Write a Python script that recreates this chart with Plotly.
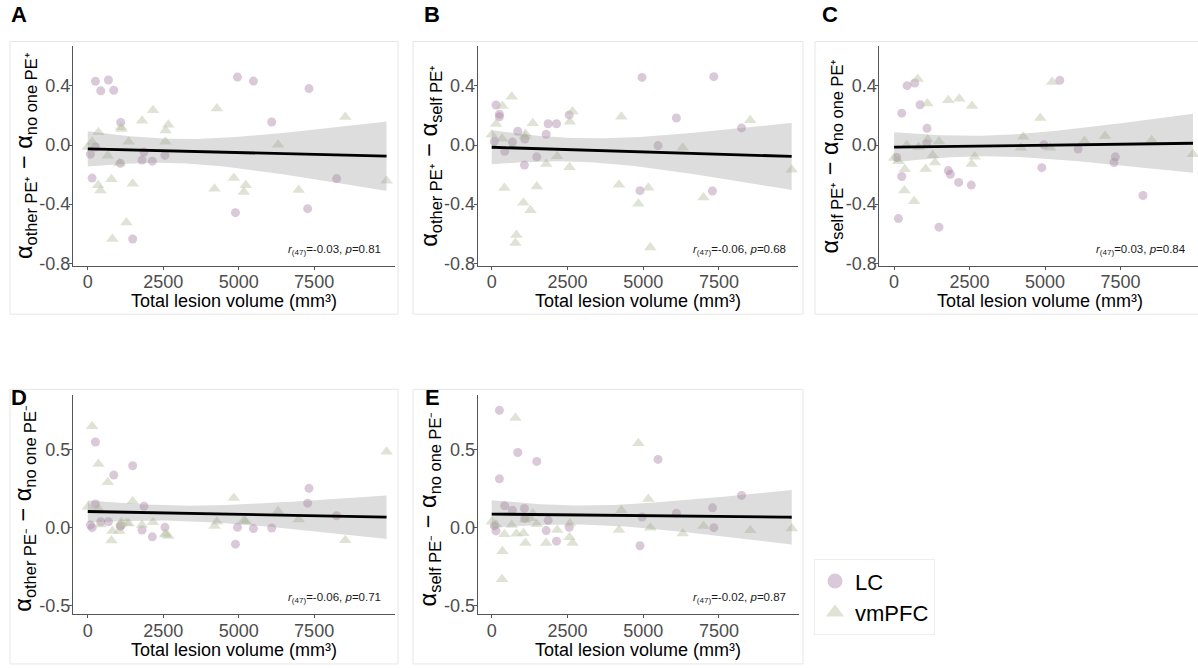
import numpy as np
import plotly.graph_objects as go

# ---------------- data ----------------
lc_volume = [88, 143, 254, 254, 430, 684, 860, 1080, 1091, 1488, 1797, 1863, 2139, 2558,
             4893, 4961, 5489, 6095, 7286, 7330, 8245]
vm_volume = [0, 143, 342, 353, 419, 662, 783, 816, 1047, 1100, 1113, 1279, 1356, 1488, 1797,
             2161, 2569, 2580, 2668, 4200, 4278, 4840, 5169, 5235, 6305, 6988, 8532, 9900]

lc_A = [-0.062, -0.224, 0.431, -0.013, 0.367, 0.44, 0.371, -0.124, 0.153, -0.636, -0.102, -0.047,
        -0.109, -0.069, -0.458, 0.46, 0.433, 0.156, -0.431, 0.382, -0.227]
lc_B = [0.024, 0.271, 0.209, 0.191, -0.042, 0.02, 0.093, -0.136, 0.04, -0.08, 0.073, 0.144,
        0.144, 0.204, -0.309, 0.458, -0.004, 0.183, -0.311, 0.463, 0.116]
lc_C = [-0.084, -0.498, 0.216, -0.213, 0.402, 0.42, 0.273, 0.009, 0.113, -0.556, -0.173, -0.198,
        -0.253, -0.271, -0.153, 0.002, 0.438, -0.027, -0.118, -0.08, -0.342]
lc_D = [0.017, 0.0, 0.55, 0.152, 0.038, 0.038, 0.338, 0.008, 0.013, 0.397, -0.015, 0.137,
        -0.059, 0.002, -0.106, 0.002, -0.006, -0.002, 0.157, 0.252, 0.076]
lc_E = [0.011, -0.021, 0.753, 0.313, 0.14, 0.112, 0.482, 0.123, 0.059, 0.425, -0.019, 0.047,
        -0.087, 0.002, -0.116, 0.068, 0.438, 0.093, 0.127, 0.0, 0.207]

vm_A = [-0.013, 0.02, -0.273, 0.087, -0.307, -0.073, -0.231, -0.636, -0.124, 0.12, 0.109, -0.524,
        0.022, -0.262, 0.164, 0.236, 0.022, 0.098, 0.138, -0.296, 0.247, -0.224, -0.318, -0.273,
        0.002, -0.304, 0.189, -0.242]
vm_B = [0.069, 0.142, 0.042, 0.264, -0.291, 0.327, -0.664, -0.609, -0.391, 0.06, 0.076, -0.442,
        0.147, -0.28, -0.129, -0.076, -0.151, 0.158, 0.227, -0.269, 0.191, -0.398, -0.289, -0.693,
        -0.018, -0.356, 0.167, -0.167]
vm_C = [-0.087, -0.109, -0.307, -0.164, -0.002, -0.38, 0.447, -0.013, -0.162, 0.282, 0.038, -0.069,
        -0.118, 0.024, 0.304, 0.313, -0.129, 0.264, -0.08, -0.018, 0.056, 0.183, -0.018, 0.427,
        0.027, 0.062, 0.033, -0.062]
vm_D = [0.133, 0.651, 0.123, 0.408, 0.02, 0.292, -0.082, -0.021, -0.021, 0.02, 0.034, 0.03,
        0.027, 0.169, 0.017, 0.034, -0.04, -0.045, -0.053, 0.011, 0.038, 0.19, 0.046, 0.04,
        0.106, 0.053, -0.081, 0.487]
vm_E = [0.038, 0.02, -0.332, -0.152, -0.042, 0.017, 0.704, -0.04, -0.036, 0.05, -0.099, 0.06,
        0.091, 0.021, -0.099, -0.015, -0.061, 0.027, -0.099, -0.015, 0.112, 0.541, 0.184, 0.0,
        -0.038, 0.011, -0.017, -0.006]

panel_letters = ["A", "B", "C", "D", "E"]
y_titles = [
    "α<sub>other PE⁺</sub> − α<sub>no one PE⁺</sub>",
    "α<sub>other PE⁺</sub> − α<sub>self PE⁺</sub>",
    "α<sub>self PE⁺</sub> − α<sub>no one PE⁺</sub>",
    "α<sub>other PE⁻</sub> − α<sub>no one PE⁻</sub>",
    "α<sub>self PE⁻</sub> − α<sub>no one PE⁻</sub>",
]
x_title = "Total lesion volume (mm³)"
stat_r = ["-0.03", "-0.06", "0.03", "-0.06", "-0.02"]
stat_p = ["0.81", "0.68", "0.84", "0.71", "0.87"]
x_ticks = [0, 2500, 5000, 7500]
y_ticks_top = [-0.8, -0.4, 0.0, 0.4]
y_ticks_bottom = [-0.5, 0.0, 0.5]

lc_series = [lc_A, lc_B, lc_C, lc_D, lc_E]
vm_series = [vm_A, vm_B, vm_C, vm_D, vm_E]

# ---------------- layout geometry (pixels) ----------------
W, H = 1198, 668
areas = [(73, 395, 47, 269), (477.7, 798, 47, 269), (879.3, 1198, 47, 269),
         (73, 395, 400, 621.7), (477.7, 799, 400, 621.7)]
xranges = [[-490, 10180], [-462, 10109], [-490, 10067], [-490, 10180], [-462, 10140]]
yr_top = [-0.8175, 0.6675]
yr_bot = [-0.556, 0.85]
boxes = [(10, 398, 42, 318), (413, 803, 42, 318), (815, 1205, 42, 318),
         (10, 398, 394, 672), (413, 803, 394, 672)]
letter_pos = [(19, 15), (432, 15), (830, 15), (19, 402), (432, 402)]

LC_COLOR = "rgba(172,136,168,0.45)"
VM_COLOR = "rgba(188,196,165,0.47)"
FONT = "Liberation Sans, Arial, sans-serif"


def px(x):
    return x / W


def py(y):
    return 1 - y / H


def fit_band(x, y, xs):
    x = np.asarray(x, float)
    y = np.asarray(y, float)
    n = len(x)
    b, a = np.polyfit(x, y, 1)
    yhat = a + b * x
    s = np.sqrt(np.sum((y - yhat) ** 2) / (n - 2))
    mx = x.mean()
    sxx = np.sum((x - mx) ** 2)
    se = s * np.sqrt(1.0 / n + (xs - mx) ** 2 / sxx)
    t = 2.0117
    fit = a + b * xs
    return fit, fit - t * se, fit + t * se


fig = go.Figure()
annotations = []
shapes = []

for i in range(5):
    ax = "" if i == 0 else str(i + 1)
    xa, ya = "x" + ax, "y" + ax
    x0, x1, yt, yb = areas[i]
    top = i < 3
    yrange = yr_top if top else yr_bot
    yt_vals = y_ticks_top if top else y_ticks_bottom

    fig.update_layout(**{
        "xaxis" + ax: dict(domain=[px(x0), px(x1)], anchor=ya, range=xranges[i],
                           tickvals=x_ticks, ticktext=[str(v) for v in x_ticks],
                           showgrid=False, zeroline=False, showline=True, linecolor="#555",
                           linewidth=1, ticks="outside", ticklen=3, tickcolor="#555",
                           ticklabelstandoff=-3,
                           tickfont=dict(size=18, color="#4d4d4d", family=FONT)),
        "yaxis" + ax: dict(domain=[py(yb), py(yt)], anchor=xa, range=yrange,
                           tickvals=yt_vals, ticktext=["%.1f" % v for v in yt_vals],
                           showgrid=False, zeroline=False, showline=True, linecolor="#555",
                           linewidth=1, ticks="outside", ticklen=3, tickcolor="#555",
                           ticklabelstandoff=-5,
                           tickfont=dict(size=18, color="#4d4d4d", family=FONT)),
    })

    fig.add_trace(go.Scatter(x=lc_volume, y=lc_series[i], mode="markers", xaxis=xa, yaxis=ya,
                             marker=dict(symbol="circle", size=9, color=LC_COLOR, line=dict(width=0)),
                             showlegend=False, hoverinfo="skip"))
    fig.add_trace(go.Scatter(x=vm_volume, y=vm_series[i], mode="markers", xaxis=xa, yaxis=ya,
                             marker=dict(symbol="triangle-up", size=11, color=VM_COLOR, line=dict(width=0)),
                             showlegend=False, hoverinfo="skip"))

    allx = np.array(lc_volume + vm_volume, float)
    ally = np.array(lc_series[i] + vm_series[i], float)
    xs = np.linspace(allx.min(), allx.max(), 80)
    fit, lo, hi = fit_band(allx, ally, xs)
    fig.add_trace(go.Scatter(x=np.concatenate([xs, xs[::-1]]), y=np.concatenate([hi, lo[::-1]]),
                             fill="toself", fillcolor="rgba(153,153,153,0.33)", line=dict(width=0),
                             mode="lines", xaxis=xa, yaxis=ya, showlegend=False, hoverinfo="skip"))
    fig.add_trace(go.Scatter(x=xs, y=fit, mode="lines", line=dict(color="black", width=2.8),
                             xaxis=xa, yaxis=ya, showlegend=False, hoverinfo="skip"))

    bx0, bx1, by0, by1 = boxes[i]
    shapes.append(dict(type="rect", xref="paper", yref="paper", x0=px(bx0), x1=px(bx1),
                       y0=py(by1), y1=py(by0), line=dict(color="#e6e6e6", width=1), layer="below"))
    lx, ly = letter_pos[i]
    annotations.append(dict(text="<b>%s</b>" % panel_letters[i], x=px(lx), y=py(ly), xref="paper",
                            yref="paper", showarrow=False, xanchor="center", yanchor="middle",
                            font=dict(size=22, color="black", family=FONT)))
    xc = (x0 + x1) / 2 if i != 2 else 1040
    annotations.append(dict(text=x_title, x=px(xc), y=py(yb + 36), xref="paper",
                            yref="paper", showarrow=False, xanchor="center", yanchor="middle",
                            font=dict(size=18, color="black", family=FONT)))
    ymid = (yt + yb) / 2 + (0 if top else 4)
    annotations.append(dict(text=y_titles[i], x=px(x0 - 48), y=py(ymid), xref="paper",
                            yref="paper", showarrow=False, textangle=-90, xanchor="center",
                            yanchor="middle", font=dict(size=23.5, color="black", family=FONT)))
    right_edge = x0 + 310 if i != 2 else 1188
    annotations.append(dict(text="<i>r</i><sub>(47)</sub>=%s, <i>p</i>=%s" % (stat_r[i], stat_p[i]),
                            x=px(right_edge), y=py(yb - 16), xref="paper", yref="paper",
                            showarrow=False, xanchor="right", yanchor="middle",
                            font=dict(size=11.5, color="#1a1a1a", family=FONT)))

fig.add_trace(go.Scatter(x=[None], y=[None], mode="markers", name="LC",
                         marker=dict(symbol="circle", size=15, color=LC_COLOR)))
fig.add_trace(go.Scatter(x=[None], y=[None], mode="markers", name="vmPFC",
                         marker=dict(symbol="triangle-up", size=16, color=VM_COLOR)))

fig.update_layout(
    width=W, height=H, margin=dict(l=0, r=0, t=0, b=0),
    paper_bgcolor="white", plot_bgcolor="white",
    font=dict(family=FONT),
    showlegend=True,
    legend=dict(x=px(814), y=py(566), xanchor="left", yanchor="top",
                bordercolor="#eeeeee", borderwidth=1, bgcolor="white",
                font=dict(size=22, color="black", family=FONT), itemsizing="trace",
                tracegroupgap=0),
    annotations=annotations, shapes=shapes,
)

fig.write_html("out.html", config={"displayModeBar": False},
               post_script="document.body.style.margin='0';document.body.style.overflow='hidden';")
